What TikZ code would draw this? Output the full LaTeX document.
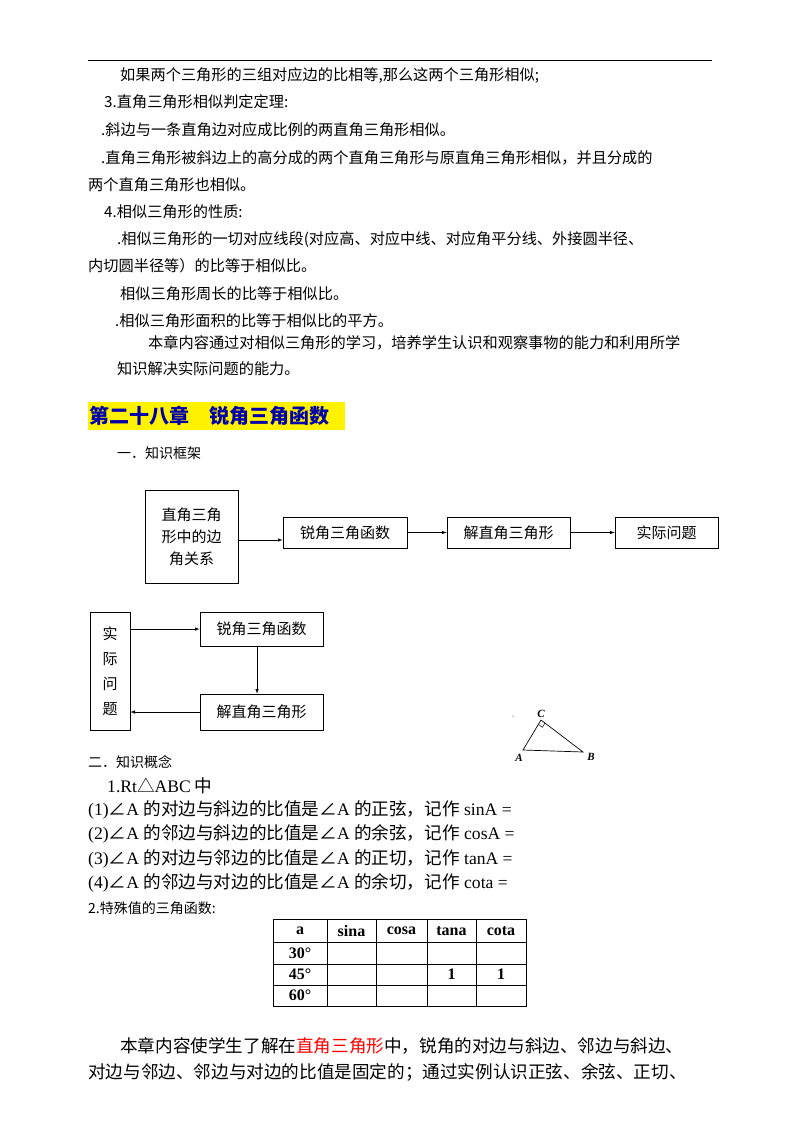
\documentclass[tikz,border=0pt]{standalone}
\usepackage{fontspec}
\usetikzlibrary{calc}
\setmainfont{Noto Sans CJK SC}
\newfontfamily\tm{Liberation Serif}
\begin{document}
\begin{tikzpicture}[x=1pt,y=-1pt,
  t/.style={anchor=west,inner sep=0pt,font=\fontsize{15.2}{16}\selectfont},
  tb/.style={anchor=west,inner sep=0pt,font=\fontsize{17.6}{18}\selectfont},
  bx/.style={draw,line width=0.8pt,inner sep=0pt,font=\fontsize{15}{22}\selectfont,align=center},
  ar/.style={-latex,line width=0.6pt},
  cell/.style={font=\tm\bfseries\fontsize{16}{16}\selectfont}]
\useasboundingbox (0,0) rectangle (800,1129);
\draw[line width=0.8pt] (88,60) -- (712,60);
\node[t] (l1) at (120,75) {如果两个三角形的三组对应边的比相等,那么这两个三角形相似;};
\node[t] (l2) at (104,102) {3.直角三角形相似判定定理:};
\node[t] (l3) at (101,130) {.斜边与一条直角边对应成比例的两直角三角形相似。};
\node[t] (l4) at (101,158) {.直角三角形被斜边上的高分成的两个直角三角形与原直角三角形相似，并且分成的};
\node[t] (l5) at (88,185) {两个直角三角形也相似。};
\node[t] (l6) at (104,212) {4.相似三角形的性质:};
\node[t] (l7) at (117,240) {.相似三角形的一切对应线段(对应高、对应中线、对应角平分线、外接圆半径、};
\node[t] (l8) at (88,266) {内切圆半径等）的比等于相似比。};
\node[t] (l9) at (120,294) {相似三角形周长的比等于相似比。};
\node[t] (l10) at (115,321) {.相似三角形面积的比等于相似比的平方。};
\node[t] (l11) at (148,343) {本章内容通过对相似三角形的学习，培养学生认识和观察事物的能力和利用所学};
\node[t] (l12) at (117,369) {知识解决实际问题的能力。};
\fill[yellow] (88,402) rectangle (345,430);
\node[anchor=west,inner sep=0pt,font=\bfseries\fontsize{20}{22}\selectfont,text={rgb,255:red,0;green,0;blue,170}] (h) at (89,416) {第二十八章\hspace{1em}锐角三角函数};
\node[t,font=\fontsize{14}{15}\selectfont] (k1) at (117,453) {一．知识框架};
% diagram 1
\node[bx,minimum width=93pt,minimum height=93pt] (A) at (191.5,536.5) {直角三角\\形中的边\\角关系};
\node[bx,minimum width=124pt,minimum height=31pt] (B) at (345,532.5) {锐角三角函数};
\node[bx,minimum width=123pt,minimum height=31pt] (C) at (508.5,532.5) {解直角三角形};
\node[bx,minimum width=103pt,minimum height=31pt] (D) at (666.5,532.5) {实际问题};
\draw[ar] (A.east|-0,540) -- (B.west|-0,540);
\draw[ar] (B) -- (C);
\draw[ar] (C) -- (D);
% diagram 2
\node[bx,minimum width=40pt,minimum height=118pt,font=\fontsize{15}{25}\selectfont] (E) at (110,671) {实\\际\\问\\题};
\node[bx,minimum width=123pt,minimum height=34pt] (F) at (261.5,629) {锐角三角函数};
\node[bx,minimum width=123pt,minimum height=36pt] (G) at (261.5,712) {解直角三角形};
\draw[ar] (E.east|-F) -- (F.west);
\draw[ar] (F.south-|257,0) -- (G.north-|257,0);
\draw[ar] (G.west) -- (E.east|-G);
% triangle
\coordinate (tA) at (523,750); \coordinate (tC) at (541,720); \coordinate (tB) at (583,752);
\draw[line width=0.7pt] (tA) -- (tC) -- (tB) -- cycle;
\coordinate (p1) at ($(tC)!5pt!(tA)$);
\coordinate (p2) at ($(tC)!5pt!(tB)$);
\draw[line width=0.5pt] (p1) -- ($(p1)+(p2)-(tC)$) -- (p2);
\node[font=\tm\itshape\bfseries\fontsize{11}{11}\selectfont,inner sep=0pt] (la) at (519,758) {A};
\node[font=\tm\itshape\bfseries\fontsize{11}{11}\selectfont,inner sep=0pt] (lc) at (541,714) {C};
\node[font=\tm\itshape\bfseries\fontsize{11}{11}\selectfont,inner sep=0pt] (lb) at (591,757) {B};
\fill (513,716) circle (0.5pt);
% concepts
\node[t,font=\fontsize{14}{15}\selectfont] (k2) at (88,762) {二．知识概念};
\node[tb] (c0) at (107,786) {{\tm 1.Rt}△{\tm ABC} 中};
\node[tb] (c1) at (88,810) {{\tm (1)}∠{\tm A }的对边与斜边的比值是∠{\tm A }的正弦，记作{\tm\ sinA =}};
\node[tb] (c2) at (88,834) {{\tm (2)}∠{\tm A }的邻边与斜边的比值是∠{\tm A }的余弦，记作{\tm\ cosA =}};
\node[tb] (c3) at (88,859) {{\tm (3)}∠{\tm A }的对边与邻边的比值是∠{\tm A }的正切，记作{\tm\ tanA =}};
\node[tb] (c4) at (88,883) {{\tm (4)}∠{\tm A }的邻边与对边的比值是∠{\tm A }的余切，记作{\tm\ cota =}};
\node[t,font=\fontsize{14}{15}\selectfont] (k3) at (88,908) {2.特殊值的三角函数:};
% table
\draw[line width=0.8pt] (273,919) rectangle (526,1006);
\foreach \x in {327,376,427,476} \draw[line width=0.8pt] (\x,919) -- (\x,1006);
\foreach \y in {942,964,985} \draw[line width=0.8pt] (273,\y) -- (526,\y);
\node[cell] (ta) at (300,931) {a};
\node[cell] (ts) at (351.5,931) {sina};
\node[cell] (tc) at (401.5,931) {cosa};
\node[cell] (tt) at (451.5,931) {tana};
\node[cell] (tk) at (501,931) {cota};
\node[cell] (r1) at (300,953) {30°};
\node[cell] (r2) at (300,974.5) {45°};
\node[cell] (r3) at (300,995.5) {60°};
\node[cell] (v1) at (451.5,974.5) {1};
\node[cell] (v2) at (501,974.5) {1};
\node[tb] (e1) at (120,1046) {本章内容使学生了解在\textcolor{red}{直角三角形}中，锐角的对边与斜边、邻边与斜边、};
\node[tb] (e2) at (88,1072) {对边与邻边、邻边与对边的比值是固定的；通过实例认识正弦、余弦、正切、};
\end{tikzpicture}
\end{document}
